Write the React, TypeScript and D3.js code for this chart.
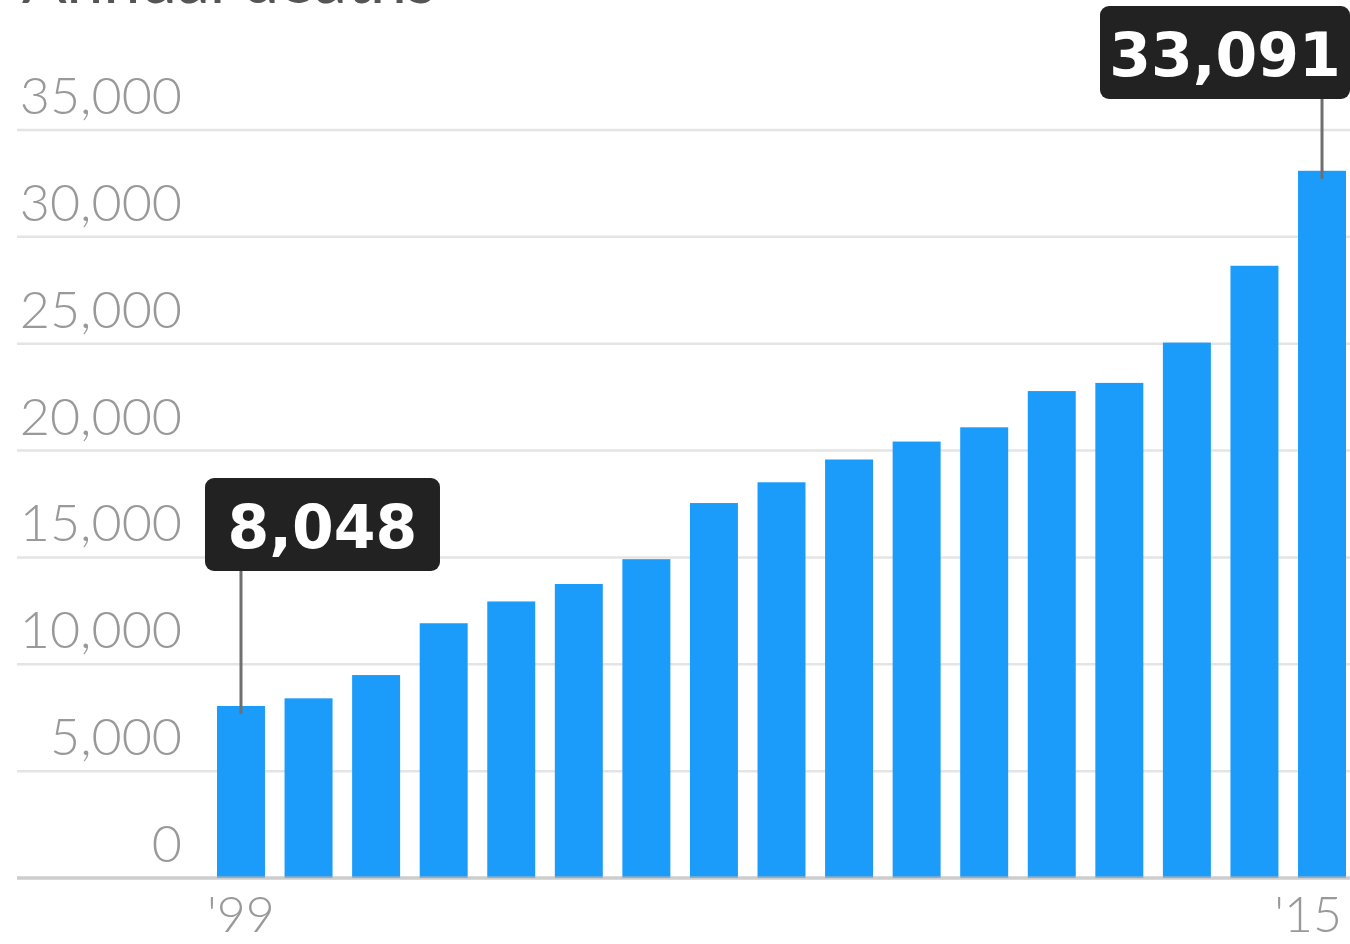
import React from "react";
import * as d3 from "d3";

const years = [1999, 2000, 2001, 2002, 2003, 2004, 2005, 2006, 2007, 2008, 2009, 2010, 2011, 2012, 2013, 2014, 2015];
const deaths = [8048, 8407, 9496, 11920, 12940, 13756, 14918, 17545, 18516, 19582, 20422, 21089, 22784, 23166, 25052, 28647, 33091];
const yTicks = [0, 5000, 10000, 15000, 20000, 25000, 30000, 35000];
const xLabels: Record<number, string> = { 1999: "'99", 2015: "'15" };
const highlights = [1999, 2015];
const title = "Annual deaths";

const W = 1350;
const H = 944;
const FONT = "Lato, 'Open Sans', sans-serif";
const BOLD = "'DejaVu Sans', Lato, sans-serif";

export default function App() {
  const x = d3.scaleBand<number>().domain(years).range([217, 1346]).paddingInner(0.29).paddingOuter(0);
  const y = d3.scaleLinear().domain([0, 35000]).range([878, 130]);
  const fmt = d3.format(",");
  const bw = x.bandwidth();
  const last = years[years.length - 1];

  return (
    <svg width={W} height={H} style={{ position: "absolute", left: 0, top: 0, background: "#fff" }}>
      <text x={22} y={3} fontFamily={FONT} fontSize={66} fill="#555">{title}</text>
      {yTicks.map((t) => (
        <g key={t}>
          {t > 0 && <line x1={17} x2={W} y1={y(t)} y2={y(t)} stroke="#e4e4e4" strokeWidth={2.5} />}
          <text x={182} y={y(t) - 16} textAnchor="end" fontFamily={FONT} fontWeight={300} fontSize={52} fill="#999">
            {fmt(t)}
          </text>
        </g>
      ))}
      {years.map((yr, i) => (
        <rect key={yr} x={x(yr)!} y={y(deaths[i])} width={bw} height={y(0) - y(deaths[i])} fill="#1b9bfa" />
      ))}
      <line x1={17} x2={W} y1={y(0)} y2={y(0)} stroke="#b8b8b8" strokeOpacity={0.7} strokeWidth={3.5} />
      {years.map((yr) =>
        xLabels[yr] ? (
          <text
            key={yr}
            x={yr === last ? x(yr)! + bw - 4 : x(yr)! + bw / 2}
            y={932}
            textAnchor={yr === last ? "end" : "middle"}
            fontFamily={FONT}
            fontWeight={300}
            fontSize={50}
            fill="#999"
          >
            {xLabels[yr]}
          </text>
        ) : null
      )}
      {highlights.map((yr) => {
        const i = years.indexOf(yr);
        const cx = x(yr)! + bw / 2;
        const isFirst = i === 0;
        const boxW = isFirst ? 235 : 250;
        const boxH = 93;
        const bx = isFirst ? cx - 36 : W - boxW;
        const by = isFirst ? 478 : 6;
        return (
          <g key={yr}>
            <line x1={cx} x2={cx} y1={by + boxH} y2={y(deaths[i]) + 8} stroke="#6f6f6f" strokeWidth={3} />
            <rect x={bx} y={by} width={boxW} height={boxH} rx={9} fill="#222" />
            <text x={bx + boxW / 2} y={by + 70} textAnchor="middle" fontFamily={BOLD} fontWeight={700} fontSize={60} fill="#fff">
              {fmt(deaths[i])}
            </text>
          </g>
        );
      })}
    </svg>
  );
}
